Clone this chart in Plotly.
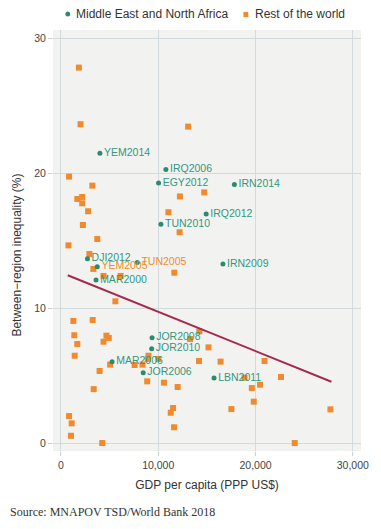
import plotly.graph_objects as go

# ---- data ----
mena_labels = ["YEM2014", "IRQ2006", "EGY2012", "IRN2014", "IRQ2012", "TUN2010",
               "DJI2012", "TUN2005", "IRN2009", "YEM2005", "MAR2000", "JOR2008",
               "JOR2010", "MAR2006", "JOR2006", "LBN2011"]
mena_gdp = [4010, 10790, 10040, 17830, 14930, 10280,
            2730, 7850, 16650, 3740, 3610, 9370,
            9330, 5260, 8460, 15740]
mena_ineq = [21.5, 20.29, 19.3, 19.18, 17.0, 16.24,
             13.68, 13.39, 13.29, 13.09, 12.1, 7.82,
             7.0, 6.04, 5.22, 4.83]
mena_label_group = ["m", "m", "m", "m", "m", "m",
                    "m", "o", "m", "o", "m", "m",
                    "m", "m", "m", "m"]

row_gdp = [1850, 2020, 13075, 840, 3236, 1690, 2190, 2190, 2800, 2260,
           3740, 780, 2930, 3340, 4380, 6140, 5600, 12230, 14730, 11050,
           12200, 11660, 1280, 3270, 1380, 1690, 1420, 4680, 4920, 4380,
           9000, 8930, 10010, 8390, 7580, 5060, 3980, 8870, 10590, 12000,
           3370, 13280, 14190, 14230, 15170, 11530, 11290, 11630, 840, 1110,
           1040, 4250, 16410, 18870, 20930, 19620, 20460, 22620, 19820, 17520,
           27700, 24030]
row_ineq = [27.86, 23.66, 23.48, 19.77, 19.1, 18.11, 18.26, 17.79, 17.2, 16.18,
            15.14, 14.67, 14.03, 12.92, 12.4, 12.4, 10.52, 18.3, 18.6, 17.13,
            15.64, 12.64, 9.06, 9.13, 8.0, 7.35, 6.48, 7.97, 7.8, 7.52,
            6.48, 6.24, 6.24, 5.82, 5.79, 5.82, 5.35, 4.58, 4.48, 4.16,
            4.0, 7.72, 6.09, 8.29, 7.1, 2.6, 2.25, 1.17, 2.0, 1.46,
            0.54, 0.0, 6.04, 4.85, 6.09, 4.08, 4.33, 4.9, 3.07, 2.52,
            2.5, 0.0]

fit_gdp = [700, 27800]
fit_ineq = [12.45, 4.55]

x_ticks = [0, 10000, 20000, 30000]
x_tick_text = ["0", "10,000", "20,000", "30,000"]
y_ticks = [0, 10, 20, 30]

legend_names = ["Middle East and North Africa", "Rest of the world"]

GREEN = "#2b8a72"
GREEN_TXT = "#33977f"
ORANGE = "#f08a2e"
LINE = "#a52a52"
FONT = "Liberation Sans, Arial, sans-serif"

label_colors = [ORANGE if g == "o" else GREEN_TXT for g in mena_label_group]

# The page body adds an 8px margin, so the figure is drawn 8px smaller and
# every pixel position below is given in page coordinates minus that offset.
OFF = 8
FW, FH = 381 - OFF, 529 - OFF
L, R, T, B = 53 - OFF, 366 - OFF, 30 - OFF, 451 - OFF
W, H = R - L, B - T
def px(x):
    return (x - OFF - L) / W
def py(y):
    return (B - (y - OFF)) / H

fig = go.Figure()
fig.add_trace(go.Scatter(
    x=row_gdp, y=row_ineq, mode="markers", name=legend_names[1], showlegend=False,
    marker=dict(symbol="square", size=6, color=ORANGE),
))
fig.add_trace(go.Scatter(
    x=fit_gdp, y=fit_ineq, mode="lines", showlegend=False,
    line=dict(color=LINE, width=2),
))
fig.add_trace(go.Scatter(
    x=mena_gdp, y=mena_ineq, mode="markers+text", name=legend_names[0], showlegend=False,
    text=mena_labels, textposition="middle right",
    textfont=dict(family=FONT, size=10.5, color=label_colors),
    marker=dict(symbol="circle", size=5, color=GREEN),
))

shapes = [
    dict(type="circle", xref="paper", yref="paper",
         x0=px(65.5), x1=px(70.5), y0=py(16.5), y1=py(11.5),
         fillcolor=GREEN, line=dict(width=0)),
    dict(type="rect", xref="paper", yref="paper",
         x0=px(246.5), x1=px(251.5), y0=py(17), y1=py(12),
         fillcolor=ORANGE, line=dict(width=0)),
]

fig.update_layout(
    width=FW, height=FH,
    margin=dict(l=L, r=FW - R, t=T, b=FH - B),
    paper_bgcolor="white", plot_bgcolor="#f2f3f0",
    font=dict(family=FONT, size=10, color="#444"),
    showlegend=False,
    shapes=shapes,
    xaxis=dict(range=[-810, 30840], tickvals=x_ticks, ticktext=x_tick_text,
               showgrid=True, gridcolor="#d3dadd", gridwidth=1, zeroline=False,
               ticks="outside", ticklen=4, tickcolor="#c8cfd2",
               tickfont=dict(size=10.5, color="#444"),
               title=dict(text="GDP per capita (PPP US$)", font=dict(size=12, color="#333"),
                          standoff=11)),
    yaxis=dict(range=[-0.59, 30.65], tickvals=y_ticks,
               showgrid=True, gridcolor="#d3dadd", gridwidth=1, zeroline=False,
               ticks="outside", ticklen=4, tickcolor="#c8cfd2",
               tickfont=dict(size=10.5, color="#444")),
    annotations=[
        dict(text=legend_names[0], xref="paper", yref="paper",
             x=px(74), y=py(14), xanchor="left", yanchor="middle", showarrow=False,
             font=dict(size=12, color="#333")),
        dict(text=legend_names[1], xref="paper", yref="paper",
             x=px(256), y=py(14), xanchor="left", yanchor="middle", showarrow=False,
             font=dict(size=12, color="#333")),
        dict(text="Between\u2212region inequality (%)", textangle=-90,
             xref="paper", yref="paper", x=px(16), y=py(255),
             xanchor="center", yanchor="middle", showarrow=False,
             font=dict(size=12, color="#333")),
        dict(text="Source: MNAPOV TSD/World Bank 2018",
             xref="paper", yref="paper", x=px(7), y=py(512),
             xanchor="left", yanchor="middle", showarrow=False,
             font=dict(family="Liberation Serif, serif", size=12, color="#333")),
    ],
)

fig.write_html("out.html")
